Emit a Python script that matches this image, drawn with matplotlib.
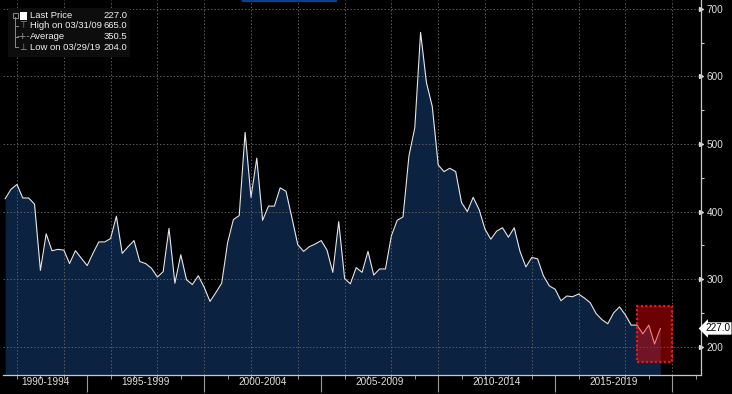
import datetime as dt
import numpy as np
import pandas as pd
import matplotlib
matplotlib.use("Agg")
import matplotlib.pyplot as plt
import matplotlib.dates as mdates
import matplotlib.transforms as mtransforms
from matplotlib.patches import Rectangle
from matplotlib.lines import Line2D

plt.rcParams['font.family'] = ['Liberation Sans', 'DejaVu Sans']
font_size = 6.8

# quarterly prices, 1991Q2 .. 2019Q2
dates = pd.date_range('1991-06-30', '2019-06-30', freq='QE')
prices = [419, 433, 440, 420, 420, 411, 313, 367, 342, 344, 343, 323, 342, 331, 320, 338,
          355, 355, 360, 393, 338, 348, 357, 326, 323, 316, 303, 311, 375, 294, 336, 299,
          292, 305, 288, 267, 280, 294, 354, 388, 394,
          517, 421, 479, 387, 408, 408, 435, 430, 391, 351, 341, 348, 352, 357, 343, 310,
          385, 301, 293, 317, 310, 341, 306, 315, 315, 364, 387, 392, 482, 524, 665, 591,
          555, 469, 459, 464, 459, 413, 400, 421, 403, 374, 359, 371, 376, 362, 376, 341,
          318, 332, 330, 305, 290, 285, 268, 275, 274, 278, 272, 265, 249, 240, 234, 250,
          259, 247, 232, 232, 219, 232, 204, 227]

period_labels = ["1990-1994", "1995-1999", "2000-2004", "2005-2009", "2010-2014", "2015-2019"]
period_starts = [1990, 1995, 2000, 2005, 2010, 2015]
y_ticks = [200, 300, 400, 500, 600, 700]

legend_rows = [("Last Price", "227.0"), ("High on 03/31/09", "665.0"),
               ("Average", "350.5"), ("Low on 03/29/19", "204.0")]

W, H = 732, 394
fig = plt.figure(figsize=(W / 100, H / 100), dpi=100, facecolor='black')
ax = fig.add_axes([3 / W, (H - 374.5) / H, 698 / W, 374.5 / H])
ax.set_facecolor('black')

x_left = dt.datetime(1991, 5, 27)
x_right = dt.datetime(2021, 3, 25)
ax.set_xlim(x_left, x_right)
ax.set_ylim(158.9, 712.9)

grid_col = '#5c5c5c'
ax.fill_between(dates, prices, 158.9, color='#0b2341', lw=0, zorder=1)
ax.plot(dates, prices, color='#e6e6e6', lw=0.8, zorder=4)

# grid
for y in y_ticks:
    ax.axhline(y, color=grid_col, lw=0.7, ls=(0, (1.5, 2)), zorder=2)
for yr in range(1992, 2022, 2):
    ax.axvline(dt.datetime(yr, 1, 1), color=grid_col, lw=0.7, ls=(0, (1.5, 2)), zorder=2)

# spines
for s in ['left', 'top']:
    ax.spines[s].set_visible(False)
for s in ['right', 'bottom']:
    ax.spines[s].set_color('#c8c8c8')
    ax.spines[s].set_linewidth(0.9)

# y axis on the right
ax.yaxis.tick_right()
ax.set_yticks(y_ticks)
ax.set_yticks([250, 350, 450, 550, 650], minor=True)
ax.tick_params(axis='y', which='major', colors='#e0e0e0', labelsize=font_size + 0.4,
               length=3, width=0.8, pad=1)
ax.tick_params(axis='y', which='minor', colors='#c8c8c8', length=2.5, width=0.8)
for t in ax.yaxis.get_major_ticks():
    t.tick2line.set_marker('>')
    t.tick2line.set_markersize(3)

# x axis ticks
ax.set_xticks([dt.datetime(y, 1, 1) for y in range(1995, 2021, 5)])
ax.set_xticks([dt.datetime(y, 1, 1) for y in range(1992, 2022)], minor=True)
ax.tick_params(axis='x', which='major', colors='#9a9a9a', length=12, width=0.8,
               labelbottom=False)
ax.tick_params(axis='x', which='minor', colors='#9a9a9a', length=3, width=0.7)

trans = mtransforms.blended_transform_factory(ax.transData, ax.transAxes)
left_num = mdates.date2num(x_left)
for lab, start in zip(period_labels, period_starts):
    a = max(mdates.date2num(dt.datetime(start, 1, 1)), left_num)
    b = mdates.date2num(dt.datetime(start + 5, 1, 1))
    ax.text((a + b) / 2, -0.021, lab, transform=trans, ha='center', va='center',
            color='#e0e0e0', fontsize=font_size + 0.4, clip_on=False)

# highlighted box
box_x0 = mdates.date2num(dt.datetime(2018, 6, 25))
box_x1 = mdates.date2num(dt.datetime(2020, 1, 1))
ax.add_patch(Rectangle((box_x0, 177.8), box_x1 - box_x0, 260.6 - 177.8,
                       facecolor='#ff0000', alpha=0.42, lw=0, zorder=5))
ax.add_patch(Rectangle((box_x0, 177.8), box_x1 - box_x0, 260.6 - 177.8,
                       fill=False, edgecolor='#ff1010', lw=1.6, ls=(0, (1, 1)), zorder=6))

# last price tag
ytrans = mtransforms.blended_transform_factory(ax.transAxes, ax.transData)
ax.text(1.006, prices[-1], "227.0", transform=ytrans, ha='left', va='center',
        fontsize=font_size + 0.4, color='black', clip_on=False,
        bbox=dict(boxstyle='larrow,pad=0.12', fc='white', ec='none'))

# blue title remnant
fig.add_artist(Line2D([243 / W, 336 / W], [1 - 0.8 / H, 1 - 0.8 / H],
                      color='#0b3f8f', lw=1.6))

# legend block
fig.add_artist(Rectangle((8 / W, 1 - 57 / H), 122 / W, 49 / H,
                         transform=fig.transFigure, facecolor='#0d0d0d', lw=0))
row_y = [15.5, 26, 36.8, 47]
fig.add_artist(Line2D([15 / W, 15 / W], [1 - 17 / H, 1 - 47 / H], color='#8a8a8a', lw=0.7))
fig.add_artist(Rectangle((12.5 / W, 1 - 18 / H), 5 / W, 5 / H, transform=fig.transFigure,
                         fill=False, edgecolor='#8a8a8a', lw=0.7))
for ry in row_y[1:]:
    fig.add_artist(Line2D([15 / W, 18 / W], [1 - ry / H, 1 - ry / H], color='#8a8a8a', lw=0.7))
fig.add_artist(Rectangle((20 / W, 1 - 19.5 / H), 7 / W, 7.5 / H, transform=fig.transFigure,
                         facecolor='white', lw=0))
symbols = ["", "\u22a4", "-+-", "\u22a5"]
for (lab, val), ry, sym in zip(legend_rows, row_y, symbols):
    if sym:
        fig.text(23.5 / W, 1 - ry / H, sym, ha='center', va='center', color='#9a9a9a',
                 fontsize=font_size - 0.5, family=['DejaVu Sans'])
    fig.text(30 / W, 1 - ry / H, lab, ha='left', va='center', color='#f0f0f0',
             fontsize=font_size)
    fig.text(127 / W, 1 - ry / H, val, ha='right', va='center', color='#f0f0f0',
             fontsize=font_size)

fig.savefig("out.png", dpi=100, facecolor='black')
